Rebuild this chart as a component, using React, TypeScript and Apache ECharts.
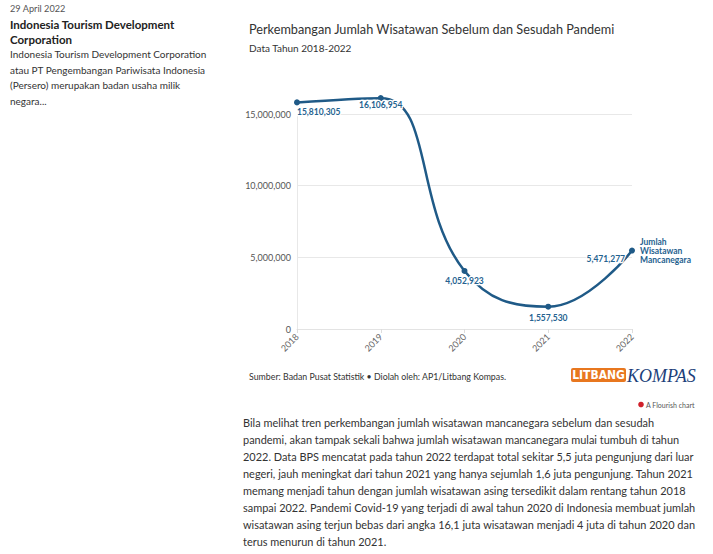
import React, { useEffect, useRef } from "react";
import * as echarts from "echarts";

const years = ["2018", "2019", "2020", "2021", "2022"];
const visitors = [15810305, 16106954, 4052923, 1557530, 5471277];
const seriesName = "Jumlah\nWisatawan\nMancanegara";
const yTicks = [0, 5000000, 10000000, 15000000];

const titleText = "Perkembangan Jumlah Wisatawan Sebelum dan Sesudah Pandemi";
const subtitleText = "Data Tahun 2018-2022";
const sourceText = "Sumber: Badan Pusat Statistik • Diolah oleh: AP1/Litbang Kompas.";
const sideDate = "29 April 2022";
const sideHeading = ["Indonesia Tourism Development", "Corporation"];
const sideBody = [
  "Indonesia Tourism Development Corporation",
  "atau PT Pengembangan Pariwisata Indonesia",
  "(Persero) merupakan badan usaha milik",
  "negara...",
];
const paragraph = [
  "Bila melihat tren perkembangan jumlah wisatawan mancanegara sebelum dan sesudah",
  "pandemi, akan tampak sekali bahwa jumlah wisatawan mancanegara mulai tumbuh di tahun",
  "2022. Data BPS mencatat pada tahun 2022 terdapat total sekitar 5,5 juta pengunjung dari luar",
  "negeri, jauh meningkat dari tahun 2021 yang hanya sejumlah 1,6 juta pengunjung. Tahun 2021",
  "memang menjadi tahun dengan jumlah wisatawan asing tersedikit dalam rentang tahun 2018",
  "sampai 2022. Pandemi Covid-19 yang terjadi di awal tahun 2020 di Indonesia membuat jumlah",
  "wisatawan asing terjun bebas dari angka 16,1 juta wisatawan menjadi 4 juta di tahun 2020 dan",
  "terus menurun di tahun 2021.",
];

const FONT = "Lato, 'Noto Sans', sans-serif";
const LINE = "#1f5a87";
const LABEL = "#25628f";

const fmt = (v: number) => v.toLocaleString("en-US");

const labelCfg: any[] = [
  { position: "bottom", align: "left", distance: 2, offset: [0, 0] },
  { position: "bottom", distance: 2, offset: [0, -3] },
  { position: "bottom", distance: 3, offset: [0, 0] },
  { position: "bottom", distance: 4, offset: [0, 0] },
  { position: "left", distance: 4, offset: [0, 8] },
];

export default function App() {
  const ref = useRef<HTMLDivElement>(null);
  useEffect(() => {
    if (!ref.current) return;
    const chart = echarts.init(ref.current, null, { renderer: "svg" });

    const graphics: any[] = [];
    graphics.push({
      type: "text", left: 10, top: 4,
      style: { text: sideDate, font: `9.2px ${FONT}`, fill: "#555" },
    });
    sideHeading.forEach((t, i) => graphics.push({
      type: "text", left: 10, top: 18 + i * 15,
      style: { text: t, font: `bold 11.5px ${FONT}`, fill: "#222" },
    }));
    sideBody.forEach((t, i) => graphics.push({
      type: "text", left: 10, top: 49 + i * 15.7,
      style: { text: t, font: `10px ${FONT}`, fill: "#333" },
    }));
    graphics.push({
      type: "text", left: 249, top: 22,
      style: { text: titleText, font: `12.7px ${FONT}`, fill: "#333" },
    });
    graphics.push({
      type: "text", left: 249, top: 43,
      style: { text: subtitleText, font: `10px ${FONT}`, fill: "#333" },
    });
    graphics.push({
      type: "text", left: 249, top: 372,
      style: { text: sourceText, font: `8.8px ${FONT}`, fill: "#333" },
    });
    // Logo
    graphics.push({
      type: "rect", shape: { x: 571, y: 368, width: 55, height: 14, r: 2 },
      style: { fill: "#e8771f" },
    });
    graphics.push({
      type: "text", x: 598.5, y: 375,
      style: { text: "LITBANG", font: `bold 12px 'Liberation Sans Narrow', 'DejaVu Sans Condensed', sans-serif`, fill: "#fff", align: "center", verticalAlign: "middle" },
    });
    graphics.push({
      type: "text", x: 627, y: 376,
      style: { text: "KOMPAS", font: `italic 18px 'Liberation Serif', serif`, fill: "#1d3f7a", align: "left", verticalAlign: "middle" },
    });
    graphics.push({
      type: "circle", shape: { cx: 641, cy: 404.5, r: 2.8 }, style: { fill: "#d0202a" },
    });
    graphics.push({
      type: "text", x: 646, y: 404.5,
      style: { text: "A Flourish chart", font: `7px ${FONT}`, fill: "#555", verticalAlign: "middle" },
    });
    paragraph.forEach((t, i) => graphics.push({
      type: "text", x: 243, y: 422 + i * 17.1,
      style: { text: t, font: `10.95px ${FONT}`, fill: "#333", verticalAlign: "middle" },
    }));

    chart.setOption({
      animation: false,
      backgroundColor: "#fff",
      textStyle: { fontFamily: FONT },
      grid: { left: 297, right: 81, top: 114, bottom: 225 },
      xAxis: {
        type: "category",
        data: years,
        boundaryGap: false,
        axisLine: { show: true, lineStyle: { color: "#e3e3e3" } },
        axisTick: { show: true, length: 4, lineStyle: { color: "#ddd" } },
        axisLabel: { rotate: 45, color: "#666", fontSize: 9, margin: 6, fontFamily: FONT },
        splitLine: { show: false },
      },
      yAxis: {
        type: "value",
        min: 0,
        max: yTicks[yTicks.length - 1],
        interval: 5000000,
        axisLine: { show: true, lineStyle: { color: "#e8e8e8" } },
        axisTick: { show: false },
        axisLabel: { color: "#555", fontSize: 9, margin: 6, formatter: (v: number) => fmt(v), fontFamily: FONT },
        splitLine: { show: true, lineStyle: { color: "#e8e8e8" } },
      },
      series: [
        {
          type: "line",
          name: seriesName,
          data: visitors.map((v, i) => ({
            value: v,
            label: { show: true, ...labelCfg[i] },
          })),
          clip: false,
          smooth: 0.45,
          symbol: "circle",
          symbolSize: 6,
          lineStyle: { color: LINE, width: 2.5 },
          itemStyle: { color: LINE },
          label: {
            show: true,
            color: LABEL,
            fontSize: 8.5,
            fontWeight: "bold",
            fontFamily: FONT,
            textBorderColor: "#fff",
            textBorderWidth: 2.5,
            formatter: (p: any) => fmt(p.value),
          },
          endLabel: {
            show: true,
            formatter: "{a}",
            color: LABEL,
            fontSize: 8.5,
            fontWeight: "bold",
            lineHeight: 9,
            distance: 8,
            fontFamily: FONT,
          },
        },
      ],
      graphic: graphics,
    });
    return () => chart.dispose();
  }, []);
  return (
    <div
      ref={ref}
      style={{ position: "absolute", left: 0, top: 0, width: 713, height: 554 }}
    />
  );
}
